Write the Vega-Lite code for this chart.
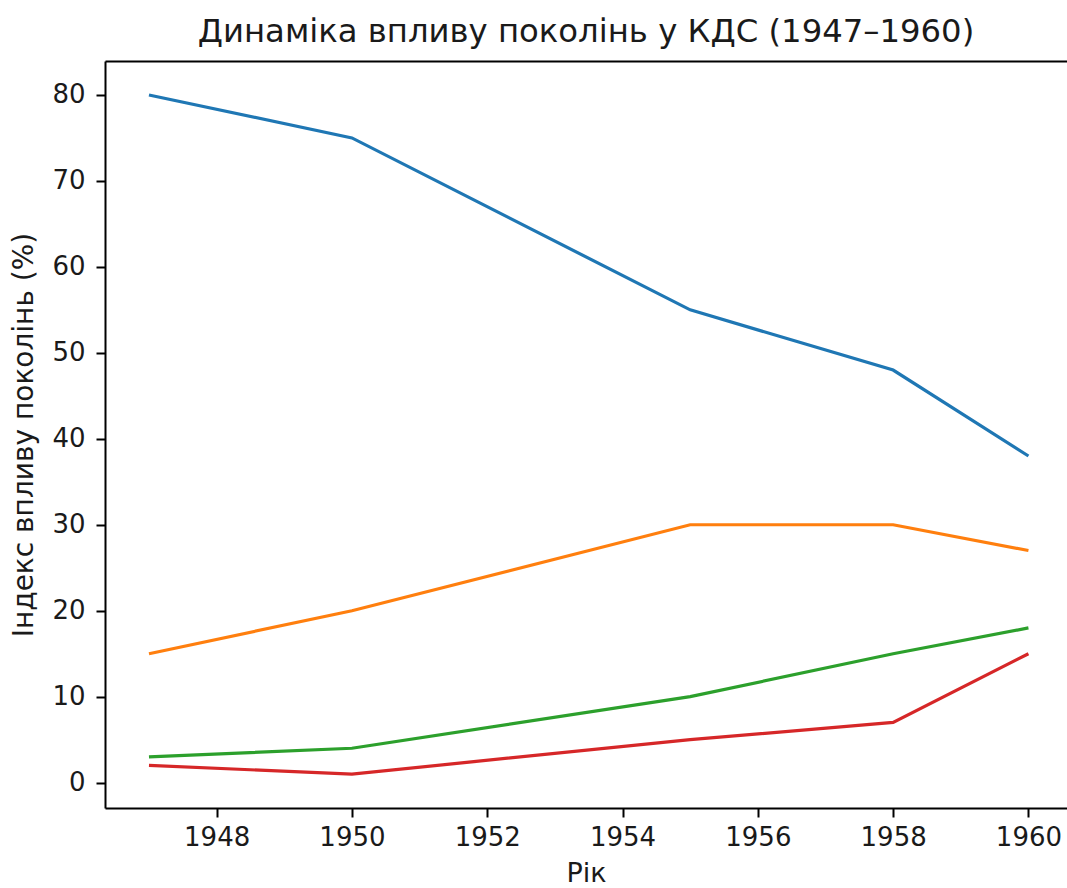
{
  "$schema": "https://vega.github.io/schema/vega-lite/v6.json",
  "autosize": {"type": "none"},
  "width": 962,
  "height": 747,
  "padding": {"left": 105, "top": 61, "right": 0, "bottom": 80},
  "background": "white",
  "config": {
    "font": "DejaVu Sans",
    "view": {"stroke": null},
    "axis": {"grid": false, "domainColor": "#000", "tickColor": "#000", "labelColor": "#1a1a1a", "titleColor": "#1a1a1a", "domainWidth": 2, "tickWidth": 2, "tickSize": 9, "labelFontSize": 26, "titleFontSize": 27, "titleFontWeight": "normal", "labelPadding": 7}
  },
  "title": {"text": "Динаміка впливу поколінь у КДС (1947–1960)", "fontSize": 32.3, "fontWeight": "normal", "color": "#1a1a1a", "anchor": "middle", "offset": 13},
  "data": {"values": [
    {"year": 1947, "series": "A", "value": 80},
    {"year": 1950, "series": "A", "value": 75},
    {"year": 1955, "series": "A", "value": 55},
    {"year": 1958, "series": "A", "value": 48},
    {"year": 1960, "series": "A", "value": 38},
    {"year": 1947, "series": "B", "value": 15},
    {"year": 1950, "series": "B", "value": 20},
    {"year": 1955, "series": "B", "value": 30},
    {"year": 1958, "series": "B", "value": 30},
    {"year": 1960, "series": "B", "value": 27},
    {"year": 1947, "series": "C", "value": 3},
    {"year": 1950, "series": "C", "value": 4},
    {"year": 1955, "series": "C", "value": 10},
    {"year": 1958, "series": "C", "value": 15},
    {"year": 1960, "series": "C", "value": 18},
    {"year": 1947, "series": "D", "value": 2},
    {"year": 1950, "series": "D", "value": 1},
    {"year": 1955, "series": "D", "value": 5},
    {"year": 1958, "series": "D", "value": 7},
    {"year": 1960, "series": "D", "value": 15}
  ]},
  "layer": [
    {
      "mark": {"type": "line", "strokeWidth": 3.2},
      "encoding": {
        "x": {"field": "year", "type": "quantitative", "scale": {"domain": [1946.35, 1960.57], "nice": false, "zero": false},
              "axis": {"values": [1948, 1950, 1952, 1954, 1956, 1958, 1960], "format": "d", "title": "Рік", "titlePadding": 10}},
        "y": {"field": "value", "type": "quantitative", "scale": {"domain": [-2.95, 83.95], "nice": false, "zero": false},
              "axis": {"values": [0, 10, 20, 30, 40, 50, 60, 70, 80], "title": "Індекс впливу поколінь (%)", "titleFontSize": 28, "titlePadding": 13, "labelPadding": 11}},
        "color": {"field": "series", "type": "nominal", "scale": {"domain": ["A", "B", "C", "D"], "range": ["#1f77b4", "#ff7f0e", "#2ca02c", "#d62728"]}, "legend": null}
      }
    },
    {
      "mark": {"type": "point", "opacity": 0},
      "encoding": {
        "x": {"field": "year", "type": "quantitative", "scale": {"domain": [1946.35, 1960.57], "nice": false, "zero": false},
              "axis": {"orient": "top", "labels": false, "ticks": false, "title": null}}
      }
    }
  ],
  "resolve": {"axis": {"x": "independent"}}
}
